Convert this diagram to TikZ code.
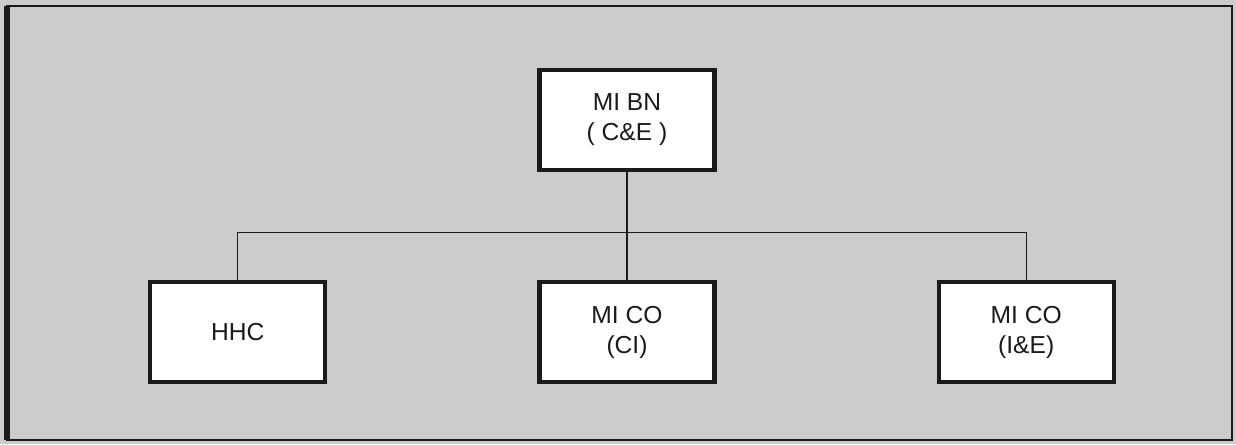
\documentclass[tikz,border=0pt]{standalone}
\usepackage{fontspec}
\setmainfont{Liberation Sans}
\usetikzlibrary{calc,positioning}
\definecolor{Halftone}{HTML}{CCCCCC}
\definecolor{Ink}{HTML}{1A1A1A}

\begin{document}
\begin{tikzpicture}[
  unit/.style={draw=Ink,fill=white,line width=2.4pt,minimum width=3.5cm,minimum height=2cm,align=center,font=\fontsize{14}{17}\selectfont,text=Ink},
  link/.style={line width=0.6pt,draw=Ink}
]
  \useasboundingbox (0,0) rectangle (24.72,-8.88);
  \fill[Halftone] (0,0) rectangle (24.72,-8.88);
  \draw[Ink,line width=1.6pt] (0.14,-0.12) rectangle (24.64,-8.8);
  \draw[Ink,line width=3pt] (0.14,-0.12) -- (0.14,-8.8);
  \node[unit] (bn) at (12.54,-2.4) {MI BN\\( C\&E )};
  \node[unit,below=2.16cm of bn] (ci) {MI CO\\(CI)};
  \node[unit,left=4.2cm of ci] (hhc) {HHC};
  \node[unit,right=4.4cm of ci] (ie) {MI CO\\(I\&E)};
  \coordinate (bus) at ($(bn.south)+(0,-1.2)$);
  \draw[link] (bn) -- (ci);
  \draw[link] (hhc.north) |- (bus) -| (ie.north);
\end{tikzpicture}
\end{document}
